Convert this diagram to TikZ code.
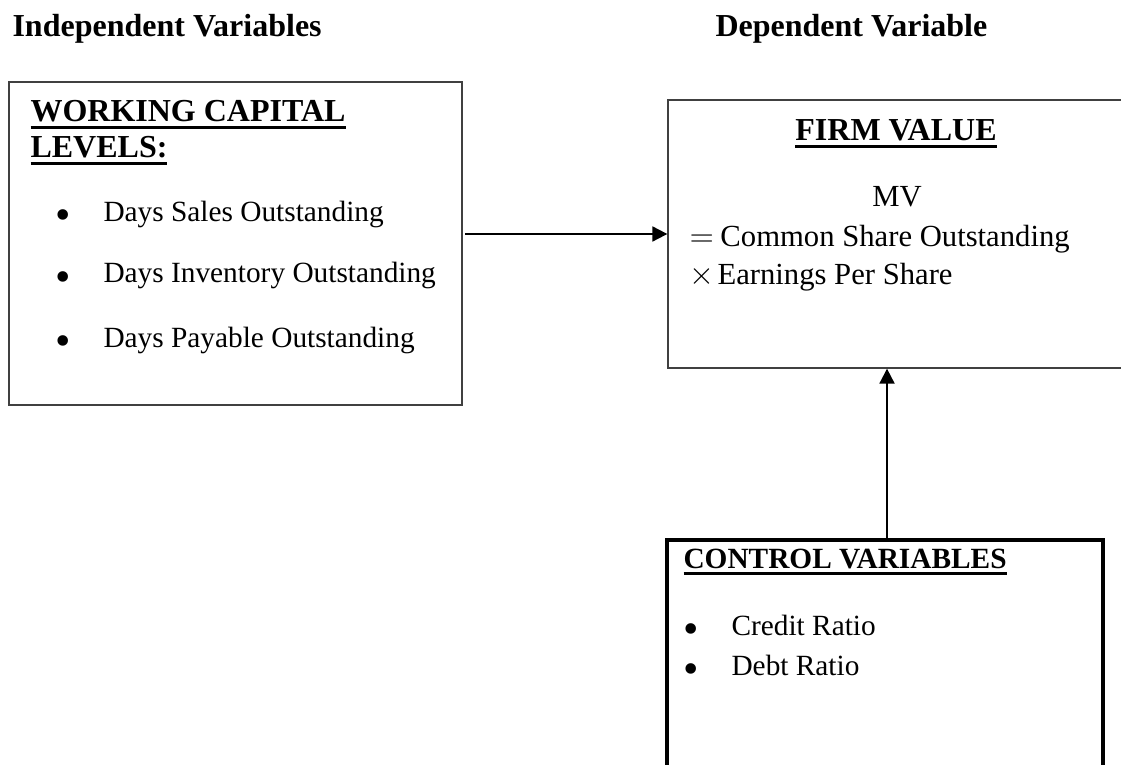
\documentclass[tikz,border=0pt]{standalone}
\usepackage{fontspec}
\setmainfont{Liberation Serif}
\usetikzlibrary{arrows.meta,fit,calc}
\newcommand{\ulb}[1]{\vtop{\hbox{#1}\kern1.3pt\hrule height 1.1pt}}
\newcommand{\bul}{\hbox to 18pt{\raisebox{-3pt}{\scalebox{1.5}{\textbullet}}\hfil}}
\begin{document}
\begin{tikzpicture}[x=0.375pt,y=-0.375pt,
  txt/.style={inner sep=0pt, anchor=base west},
  head/.style={txt, font=\fontsize{12}{14}\selectfont\bfseries},
  headsm/.style={txt, font=\fontsize{11}{13}\selectfont\bfseries},
  item/.style={txt, font=\fontsize{11}{13}\selectfont},
  eq/.style={inner sep=0pt, font=\fontsize{11.5}{13}\selectfont},
  thinbox/.style={draw=black!75, line width=0.5pt, inner sep=0pt},
  thickbox/.style={draw=black, line width=1.2pt, inner sep=0pt},
  arr/.style={draw=black, line width=0.75pt, -{Triangle[length=5.6pt,width=5.6pt]}}]

\useasboundingbox (0,0) rectangle (1121,765);
\clip (0,0) rectangle (1121,765);

% column headings
\node[head] (ind) at (12,37) {Independent Variables};
\node[head] (dep) at (715,37) {Dependent Variable};

% boxes
\coordinate (wc-nw) at (9,82);
\coordinate (wc-se) at (462,405);
\node[thinbox, fit=(wc-nw)(wc-se)] (wc) {};

\coordinate (fv-nw) at (668,100);
\coordinate (fv-se) at (1135,368);
\node[thinbox, fit=(fv-nw)(fv-se)] (fv) {};

\coordinate (cv-nw) at (667,540);
\coordinate (cv-se) at (1103,800);
\node[thickbox, fit=(cv-nw)(cv-se)] (cv) {};

% working capital box text
\node[head] (wc1) at (30,122) {\ulb{WORKING CAPITAL}};
\node[head] (wc2) at (30,158) {\ulb{LEVELS:}};
\node[item] (dso) at (55,222) {\bul Days Sales Outstanding};
\node[item] (dio) at (55,283) {\bul Days Inventory Outstanding};
\node[item] (dpo) at (55,347) {\bul Days Payable Outstanding};

% firm value box text
\node[head, anchor=base] (fvt) at (896,141) {\ulb{FIRM VALUE}};
\node[eq, anchor=base] (mv) at (897,207) {MV};
\node[eq, anchor=base west] (eq1) at (689,247) {\hbox to 11.6pt{$=$\hfil}Common Share Outstanding};
\node[eq, anchor=base west] (eq2) at (689,285) {\hbox to 10.5pt{$\times$\hfil}Earnings Per Share};

% control variables box text
\node[headsm] (cvt) at (683,568) {\ulb{CONTROL VARIABLES}};
\node[item] (cr) at (683,635) {\bul Credit Ratio};
\node[item] (dr) at (683,675) {\bul Debt Ratio};

% connectors
\draw[arr] ([xshift=1pt]wc.east |- fv.west) -- (fv.west);
\draw[arr] ([xshift=0.75pt]cv.north) -- ([xshift=0.75pt]cv.north |- fv.south);
\end{tikzpicture}
\end{document}
